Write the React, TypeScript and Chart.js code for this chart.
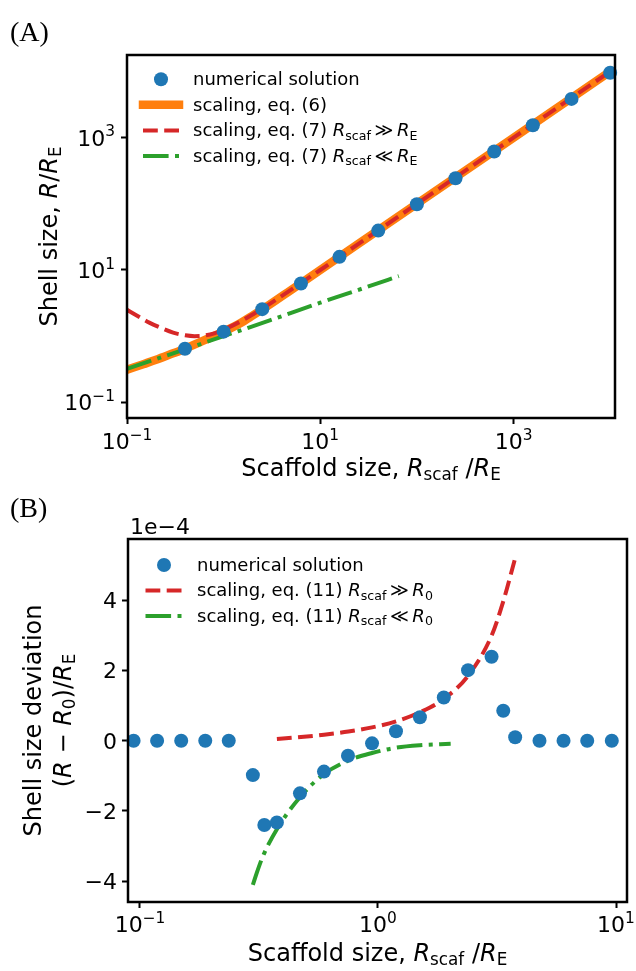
import { useEffect, useRef } from "react";
import { Chart, registerables } from "chart.js";

Chart.register(...registerables);

// ---------------- Panel A data ----------------
const A_NUM_X = [0.398, 1.0, 2.51, 6.31, 15.8, 39.8, 100, 251, 631, 1585, 3981, 10000];
const A_NUM_Y = [0.645, 1.17, 2.56, 6.24, 15.8, 39.4, 98.6, 244, 616, 1540, 3850, 9550];

const A_EQ6_X = [0.1, 0.15, 0.2, 0.3, 0.4, 0.6, 0.8, 1.0, 1.5, 2.0, 3.0, 5.0, 10, 100, 1000, 10000];
const A_EQ6_Y = [0.31, 0.38, 0.44, 0.55, 0.645, 0.84, 1.01, 1.17, 1.58, 2.05, 3.0, 5.0, 10, 100, 1000, 10000];

const A_EQ7L_X = [0.1, 0.13, 0.17, 0.22, 0.3, 0.4, 0.5, 0.6, 0.8, 1.0, 1.5, 2.0, 3.0, 5.0, 10, 100, 1000, 10000];
const A_EQ7L_Y = [2.5, 2.0, 1.6, 1.35, 1.13, 1.03, 1.0, 1.01, 1.1, 1.25, 1.67, 2.13, 3.08, 5.05, 10.0, 100, 1000, 10000];

const A_EQ7S_X = [0.1, 0.3, 1.0, 3.0, 10, 30, 65];
const A_EQ7S_Y = [0.32, 0.55, 1.0, 1.73, 3.2, 5.5, 8.1];

const A_X_TICKS = [0.1, 10, 1000];
const A_Y_TICKS = [0.1, 10, 1000];

// ---------------- Panel B data (units of 1e-4) ----------------
const B_NUM_X = [0.094, 0.118, 0.149, 0.188, 0.236, 0.298, 0.333, 0.376, 0.47, 0.593, 0.748, 0.944, 1.19, 1.5, 1.89, 2.39, 3.0, 3.36, 3.77, 4.77, 6.02, 7.57, 9.6];
const B_NUM_Y = [0, 0, 0, 0, 0, -0.98, -2.4, -2.33, -1.5, -0.88, -0.43, -0.075, 0.27, 0.67, 1.23, 2.01, 2.39, 0.855, 0.1, 0, 0, 0, 0];

const B_EQ11L_X = [0.376, 0.488, 0.593, 0.751, 0.944, 1.19, 1.5, 1.89, 2.39, 3.0, 3.35, 3.77];
const B_EQ11L_Y = [0.05, 0.11, 0.17, 0.26, 0.38, 0.55, 0.81, 1.19, 1.85, 2.99, 3.94, 5.2];

const B_EQ11S_X = [0.298, 0.31, 0.329, 0.376, 0.47, 0.593, 0.748, 0.944, 1.19, 1.5, 2.02];
const B_EQ11S_Y = [-4.11, -3.75, -3.28, -2.52, -1.61, -0.95, -0.57, -0.35, -0.2, -0.13, -0.09];

const B_X_TICKS = [0.1, 1, 10];
const B_Y_TICKS = [-4, -2, 0, 2, 4];
const B_OFFSET_TEXT = "1e\u22124";

// ---------------- styling ----------------
const FONT = '"DejaVu Sans", sans-serif';
const BLUE = "#1f77b4";
const ORANGE = "#ff7f0e";
const RED = "#d62728";
const GREEN = "#2ca02c";
const DASH = [14.8, 6.4];
const DASHDOT = [25.6, 6.4, 4, 6.4];

type Seg = { t: string; i?: boolean; s?: "sub" | "sup" };

function segFont(seg: Seg, size: number) {
  const px = seg.s ? size * 0.7 : size;
  return `${seg.i ? "italic " : ""}${px}px ${FONT}`;
}

function drawSegs(ctx: CanvasRenderingContext2D, segs: Seg[], x: number, y: number, size: number, align: "left" | "center" | "right") {
  ctx.save();
  ctx.textBaseline = "alphabetic";
  ctx.textAlign = "left";
  let total = 0;
  const widths = segs.map((sg) => {
    ctx.font = segFont(sg, size);
    const w = ctx.measureText(sg.t).width;
    total += w;
    return w;
  });
  let cx = align === "left" ? x : align === "center" ? x - total / 2 : x - total;
  segs.forEach((sg, k) => {
    ctx.font = segFont(sg, size);
    const dy = sg.s === "sub" ? size * 0.18 : sg.s === "sup" ? -size * 0.42 : 0;
    ctx.fillText(sg.t, cx, y + dy);
    cx += widths[k];
  });
  ctx.restore();
}

function powLabel(v: number): Seg[] {
  const e = Math.round(Math.log10(v));
  return [{ t: "10" }, { t: e < 0 ? "\u2212" + -e : String(e), s: "sup" }];
}

function numLabel(v: number): Seg[] {
  return [{ t: v < 0 ? "\u2212" + -v : String(v) }];
}

type LegendItem = { kind: "dot" } | { kind: "line"; color: string; width: number; dash: number[]; cap: CanvasLineCap };
type LegendSpec = { x0: number; x1: number; mx: number; tx: number; rows: number[]; size: number; items: LegendItem[]; labels: Seg[][] };

type PanelSpec = {
  letter: string;
  letterX: number;
  letterY: number;
  xTickLabel: (v: number) => Seg[];
  yTickLabel: (v: number) => Seg[];
  xTickDy: number;
  yTickDx: number;
  tickSize: number;
  xTitle: Seg[];
  xTitleDy: number;
  yTitles: { segs: Seg[]; x: number }[];
  titleSize: number;
  offsetText?: string;
  legend: LegendSpec;
};

function makePlugin(spec: PanelSpec) {
  return {
    id: "panelDecor" + spec.letter,
    afterDatasetsDraw(chart: any) {
      const { ctx, chartArea } = chart;
      ctx.save();
      ctx.strokeStyle = "#000";
      ctx.lineWidth = 2.5;
      ctx.strokeRect(chartArea.left, chartArea.top, chartArea.right - chartArea.left, chartArea.bottom - chartArea.top);
      ctx.restore();
    },
    afterDraw(chart: any) {
      const { ctx, chartArea } = chart;
      const xs = chart.scales.x;
      const ys = chart.scales.y;
      ctx.save();
      ctx.fillStyle = "#000";
      xs.ticks.forEach((t: any) => {
        const px = xs.getPixelForValue(t.value);
        drawSegs(ctx, spec.xTickLabel(t.value), px, chartArea.bottom + spec.xTickDy, spec.tickSize, "center");
      });
      ys.ticks.forEach((t: any) => {
        const py = ys.getPixelForValue(t.value);
        drawSegs(ctx, spec.yTickLabel(t.value), chartArea.left - spec.yTickDx, py + spec.tickSize * 0.36, spec.tickSize, "right");
      });
      drawSegs(ctx, spec.xTitle, (chartArea.left + chartArea.right) / 2, chartArea.bottom + spec.xTitleDy, spec.titleSize, "center");
      const cy = (chartArea.top + chartArea.bottom) / 2;
      spec.yTitles.forEach((yt) => {
        ctx.save();
        ctx.translate(yt.x, cy);
        ctx.rotate(-Math.PI / 2);
        drawSegs(ctx, yt.segs, 0, 0, spec.titleSize, "center");
        ctx.restore();
      });
      if (spec.offsetText) {
        drawSegs(ctx, [{ t: spec.offsetText }], chartArea.left + 2, chartArea.top - 5, spec.tickSize, "left");
      }
      ctx.font = '28px "Liberation Serif", serif';
      ctx.textAlign = "left";
      ctx.textBaseline = "alphabetic";
      ctx.fillText(spec.letter, spec.letterX, spec.letterY);
      const lg = spec.legend;
      lg.items.forEach((it, k) => {
        const y = lg.rows[k];
        if (it.kind === "dot") {
          ctx.beginPath();
          ctx.fillStyle = BLUE;
          ctx.arc(lg.mx, y, 7, 0, Math.PI * 2);
          ctx.fill();
          ctx.fillStyle = "#000";
        } else {
          ctx.save();
          ctx.beginPath();
          ctx.strokeStyle = it.color;
          ctx.lineWidth = it.width;
          ctx.lineCap = it.cap;
          ctx.setLineDash(it.dash);
          ctx.moveTo(lg.x0, y);
          ctx.lineTo(lg.x1, y);
          ctx.stroke();
          ctx.restore();
        }
        drawSegs(ctx, lg.labels[k], lg.tx, y + lg.size * 0.33, lg.size, "left");
      });
      ctx.restore();
    },
  };
}

function pts(xs: number[], ys: number[]) {
  return xs.map((x, k) => ({ x, y: ys[k] }));
}

function axis(type: string, min: number, max: number, ticks: number[]) {
  return {
    type,
    min,
    max,
    afterBuildTicks: (scale: any) => {
      scale.ticks = ticks.map((v) => ({ value: v }));
    },
    ticks: { display: false },
    border: { display: false },
    grid: {
      display: true,
      drawOnChartArea: false,
      drawTicks: true,
      tickLength: 6,
      tickWidth: 2,
      tickColor: "#000",
    },
  };
}

function lineDs(data: any[], color: string, width: number, dash: number[], order: number, cap: CanvasLineCap = "butt") {
  return {
    type: "line",
    data,
    showLine: true,
    borderColor: color,
    backgroundColor: color,
    borderWidth: width,
    borderDash: dash,
    borderCapStyle: cap,
    pointRadius: 0,
    pointHoverRadius: 0,
    fill: false,
    cubicInterpolationMode: "monotone",
    order,
  };
}

function dotDs(data: any[]) {
  return {
    type: "scatter",
    data,
    showLine: false,
    pointRadius: 7,
    pointHoverRadius: 7,
    pointBorderWidth: 0,
    pointBackgroundColor: BLUE,
    borderColor: BLUE,
    backgroundColor: BLUE,
    order: 0,
    clip: false,
  };
}

const SCAF_E: Seg[] = [{ t: "Scaffold size, " }, { t: "R", i: true }, { t: "scaf", s: "sub" }, { t: " /" }, { t: "R", i: true }, { t: "E", s: "sub" }];

function configA(): any {
  const spec: PanelSpec = {
    letter: "(A)",
    letterX: 10,
    letterY: 41,
    xTickLabel: powLabel,
    yTickLabel: powLabel,
    xTickDy: 31,
    yTickDx: 12,
    tickSize: 22,
    xTitle: SCAF_E,
    xTitleDy: 57.5,
    yTitles: [{ segs: [{ t: "Shell size, " }, { t: "R", i: true }, { t: "/" }, { t: "R", i: true }, { t: "E", s: "sub" }], x: 57 }],
    titleSize: 24,
    legend: {
      x0: 143,
      x1: 179,
      mx: 161,
      tx: 193,
      rows: [79.3, 104.7, 130.5, 156],
      size: 18,
      items: [
        { kind: "dot" },
        { kind: "line", color: ORANGE, width: 8.5, dash: [], cap: "square" },
        { kind: "line", color: RED, width: 4, dash: DASH, cap: "butt" },
        { kind: "line", color: GREEN, width: 4, dash: DASHDOT, cap: "butt" },
      ],
      labels: [
        [{ t: "numerical solution" }],
        [{ t: "scaling, eq. (6)" }],
        [{ t: "scaling, eq. (7) " }, { t: "R", i: true }, { t: "scaf", s: "sub" }, { t: "\u2009\u226B\u2009" }, { t: "R", i: true }, { t: "E", s: "sub" }],
        [{ t: "scaling, eq. (7) " }, { t: "R", i: true }, { t: "scaf", s: "sub" }, { t: "\u2009\u226A\u2009" }, { t: "R", i: true }, { t: "E", s: "sub" }],
      ],
    },
  };
  return {
    type: "scatter",
    data: {
      datasets: [
        dotDs(pts(A_NUM_X, A_NUM_Y)),
        lineDs(pts(A_EQ6_X, A_EQ6_Y), ORANGE, 8.5, [], 3, "square"),
        lineDs(pts(A_EQ7L_X, A_EQ7L_Y), RED, 4, DASH, 2),
        lineDs(pts(A_EQ7S_X, A_EQ7S_Y), GREEN, 4, DASHDOT, 1),
      ],
    },
    options: {
      responsive: false,
      devicePixelRatio: 1,
      animation: false,
      events: [],
      layout: { padding: { left: 121, right: 21, top: 55, bottom: 60 } },
      plugins: { legend: { display: false }, tooltip: { enabled: false }, title: { display: false } },
      scales: {
        x: axis("logarithmic", 0.1, Math.pow(10, 4.05), A_X_TICKS),
        y: axis("logarithmic", Math.pow(10, -1.237), Math.pow(10, 4.249), A_Y_TICKS),
      },
    },
    plugins: [makePlugin(spec)],
  };
}

function configB(): any {
  const spec: PanelSpec = {
    letter: "(B)",
    letterX: 10,
    letterY: 33,
    xTickLabel: powLabel,
    yTickLabel: numLabel,
    xTickDy: 30,
    yTickDx: 11,
    tickSize: 22,
    xTitle: SCAF_E,
    xTitleDy: 58.5,
    yTitles: [
      { segs: [{ t: "Shell size deviation" }], x: 41 },
      { segs: [{ t: "(" }, { t: "R", i: true }, { t: " \u2212 " }, { t: "R", i: true }, { t: "0", s: "sub" }, { t: ")/" }, { t: "R", i: true }, { t: "E", s: "sub" }], x: 70.5 },
    ],
    titleSize: 24,
    offsetText: B_OFFSET_TEXT,
    legend: {
      x0: 145.5,
      x1: 181.5,
      mx: 164,
      tx: 197,
      rows: [81, 106.5, 132],
      size: 18,
      items: [
        { kind: "dot" },
        { kind: "line", color: RED, width: 4, dash: DASH, cap: "butt" },
        { kind: "line", color: GREEN, width: 4, dash: DASHDOT, cap: "butt" },
      ],
      labels: [
        [{ t: "numerical solution" }],
        [{ t: "scaling, eq. (11) " }, { t: "R", i: true }, { t: "scaf", s: "sub" }, { t: "\u2009\u226B\u2009" }, { t: "R", i: true }, { t: "0", s: "sub" }],
        [{ t: "scaling, eq. (11) " }, { t: "R", i: true }, { t: "scaf", s: "sub" }, { t: "\u2009\u226A\u2009" }, { t: "R", i: true }, { t: "0", s: "sub" }],
      ],
    },
  };
  return {
    type: "scatter",
    data: {
      datasets: [
        dotDs(pts(B_NUM_X, B_NUM_Y)),
        lineDs(pts(B_EQ11L_X, B_EQ11L_Y), RED, 4, DASH, 2),
        lineDs(pts(B_EQ11S_X, B_EQ11S_Y), GREEN, 4, DASHDOT, 1),
      ],
    },
    options: {
      responsive: false,
      devicePixelRatio: 1,
      animation: false,
      events: [],
      layout: { padding: { left: 122, right: 9, top: 55, bottom: 63 } },
      plugins: { legend: { display: false }, tooltip: { enabled: false }, title: { display: false } },
      scales: {
        x: axis("logarithmic", Math.pow(10, -1.0504), Math.pow(10, 1.0462), B_X_TICKS),
        y: axis("linear", -4.595, 5.746, B_Y_TICKS),
      },
    },
    plugins: [makePlugin(spec)],
  };
}

export default function App() {
  const refA = useRef<HTMLCanvasElement>(null);
  const refB = useRef<HTMLCanvasElement>(null);
  useEffect(() => {
    const a = new Chart(refA.current as HTMLCanvasElement, configA());
    const b = new Chart(refB.current as HTMLCanvasElement, configB());
    return () => {
      a.destroy();
      b.destroy();
    };
  }, []);
  return (
    <div style={{ position: "absolute", left: 0, top: 0, width: 636, height: 971, background: "#fff" }}>
      <canvas ref={refA} width={636} height={484} style={{ position: "absolute", left: 0, top: 0, width: 636, height: 484 }} />
      <canvas ref={refB} width={636} height={487} style={{ position: "absolute", left: 0, top: 484, width: 636, height: 487 }} />
    </div>
  );
}
